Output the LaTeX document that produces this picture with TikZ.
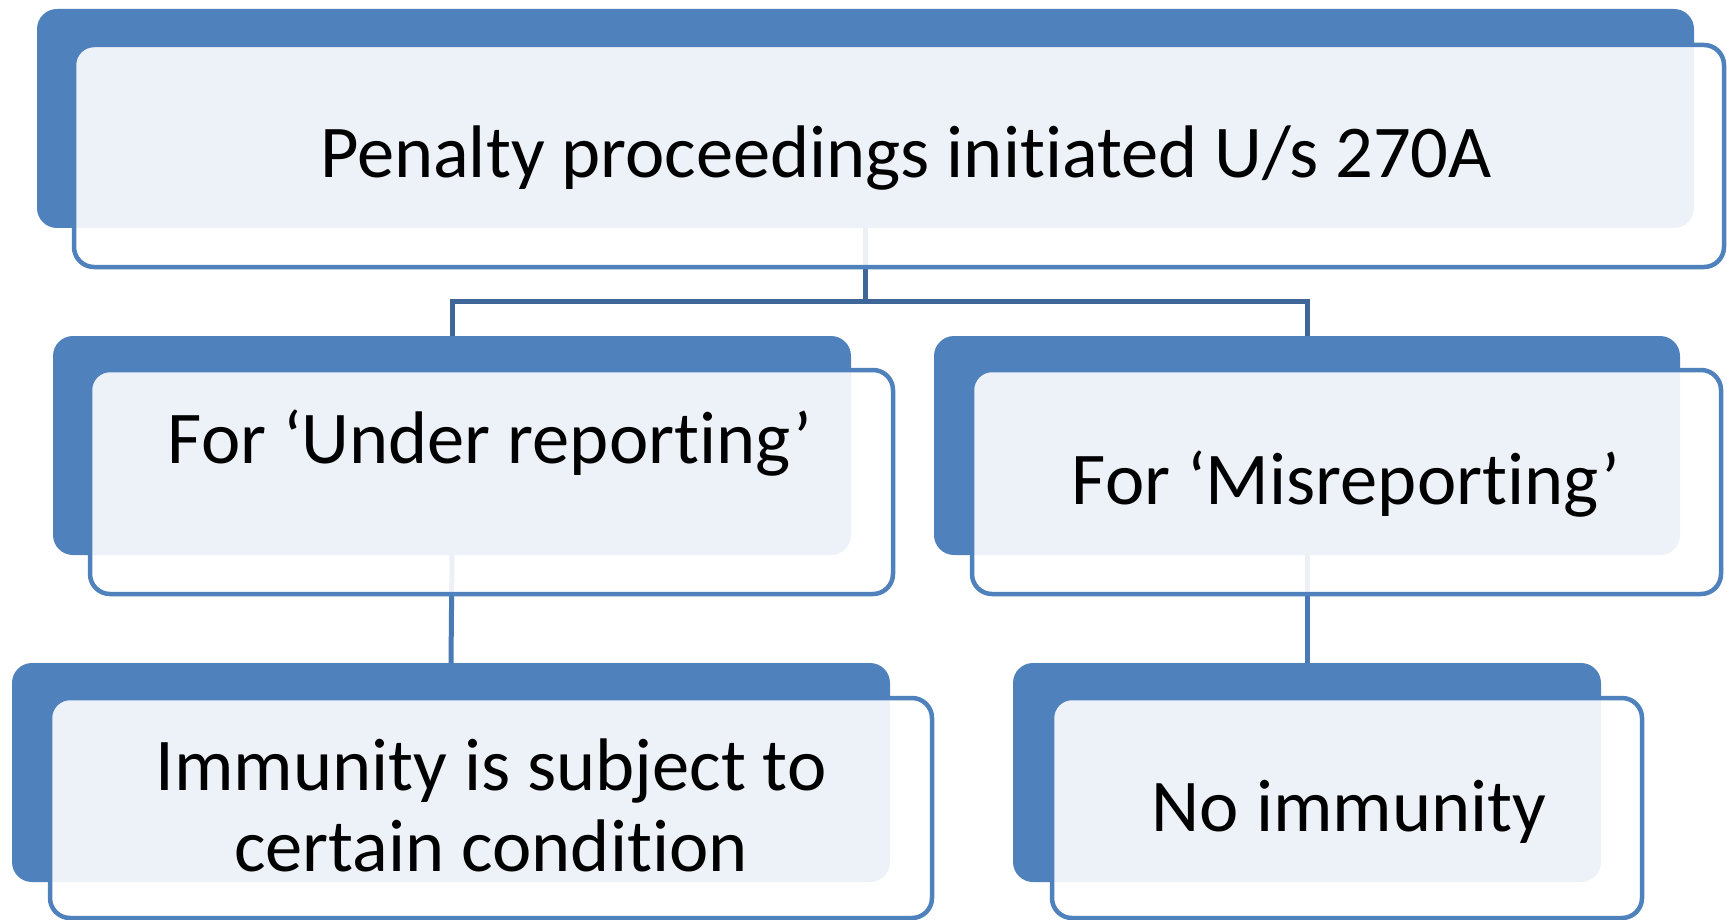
\documentclass[tikz,border=0pt]{standalone}
\usepackage{fontspec}
\setmainfont[Ligatures={NoCommon}]{Carlito}
\definecolor{accent}{HTML}{4F81BD}
\definecolor{conntop}{HTML}{3E6698}
\definecolor{connlow}{HTML}{4A7AB4}
\tikzset{
  backbox/.style={rectangle, rounded corners=20pt, fill=accent, draw=none, inner sep=0pt, outer sep=0pt},
  frontbox/.style={rectangle, rounded corners=20pt, draw=accent, line width=4.5pt, fill=white, fill opacity=0.9, draw opacity=1, inner sep=0pt, outer sep=0pt},
  toplink/.style={draw=conntop, line width=5pt},
  lowlink/.style={draw=connlow, line width=5pt},
  label/.style={anchor=base, inner sep=0pt, outer sep=0pt, text=black, font=\fontsize{74.5}{81}\selectfont}
}
\begin{document}
\begin{tikzpicture}[x=1pt, y=-1pt]
\useasboundingbox (0,0) rectangle (1727,920);
% back boxes
\node[backbox, minimum width=1657pt, minimum height=219pt] (b0) at (865.5,118.5) {};
\node[backbox, minimum width=798pt, minimum height=219pt] (b1) at (452,445.5) {};
\node[backbox, minimum width=746pt, minimum height=219pt] (b2) at (1307,445.5) {};
\node[backbox, minimum width=878pt, minimum height=219pt] (b3) at (451,772.5) {};
\node[backbox, minimum width=588pt, minimum height=219pt] (b4) at (1307,772.5) {};
% connectors
\coordinate (j) at (865.5,301);
\draw[toplink] (b0.south) -- (j);
\draw[toplink] (b1.north) |- (j) -| (b2.north);
\draw[lowlink] (b1.south) -- (b3.north);
\draw[lowlink] (b2.south) -- (b4.north);
% front boxes
\node[frontbox, minimum width=1650pt, minimum height=222pt] (f0) at (899,156) {};
\node[frontbox, minimum width=803pt, minimum height=224pt] (f1) at (491.5,482) {};
\node[frontbox, minimum width=749pt, minimum height=224pt] (f2) at (1346.5,482) {};
\node[frontbox, minimum width=882pt, minimum height=220pt] (f3) at (491,808) {};
\node[frontbox, minimum width=590pt, minimum height=220pt] (f4) at (1347,808) {};
% texts
\node[label] (t0) at (906,178) {Penalty proceedings initiated U/s 270A};
\node[label] (t1) at (490,463) {For ‘Under reporting’};
\node[label] (t2) at (1346,504) {For ‘Misreporting’};
\node[label, text width=900pt, align=flush center] (t3) at (491,790) {Immunity is subject to\\certain condition};
\node[label] (t4) at (1349,831) {No immunity};
\end{tikzpicture}
\end{document}
